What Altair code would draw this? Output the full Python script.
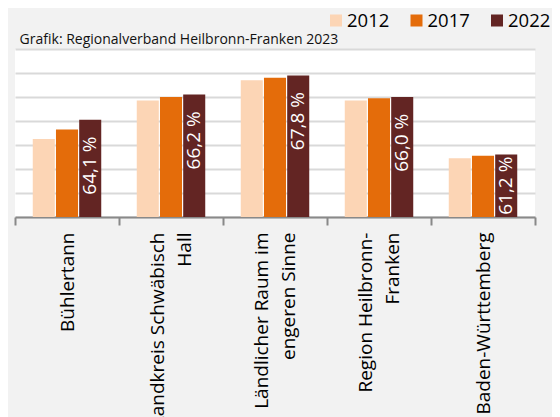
import altair as alt
import pandas as pd

# ---- data ----
categories = [
    "Bühlertann",
    "Landkreis Schwäbisch|Hall",
    "Ländlicher Raum im|engeren Sinne",
    "Region Heilbronn-|Franken",
    "Baden-Württemberg",
]
# non-breaking-space padding that centres the 2nd label line under the 1st
line2_pad = [0, 17, 5, 9, 0]
years = ["2012", "2017", "2022"]
v2012 = [62.5, 65.7, 67.4, 65.7, 60.9]
v2017 = [63.3, 66.0, 67.6, 65.9, 61.1]
v2022 = [64.1, 66.2, 67.8, 66.0, 61.2]
colors = ["#FCD5B5", "#E46C0A", "#632523"]
title_text = "Grafik: Regionalverband Heilbronn-Franken 2023"

display = []
for c, p in zip(categories, line2_pad):
    parts = c.split("|")
    if len(parts) > 1:
        parts[1] = parts[1] + "\u00a0" * p
    display.append("|".join(parts))

rows = []
for i, d in enumerate(display):
    for y, vals in zip(years, [v2012, v2017, v2022]):
        v = vals[i]
        rows.append({"cat": d, "year": y, "value": v,
                     "label": f"{v:.1f}".replace(".", ",") + " %"})
df = pd.DataFrame(rows)

color_scale = alt.Scale(domain=years, range=colors)
x_axis = alt.Axis(title=None, labelAngle=-90, labelFont="Open Sans",
                  labelFontSize=19, labelColor="#000000",
                  labelLineHeight=26.5,
                  labelExpr="split(datum.label, '|')",
                  labelOffset={"condition": {"test": "indexof(datum.label, '|') >= 0",
                                             "value": -13.25},
                               "value": 0},
                  labelLimit=1000, labelOverlap=False,
                  labelPadding=7, tickBand="extent",
                  tickSize=8, tickWidth=2, tickColor="#898989",
                  domainColor="#898989", domainWidth=2)
x_scale = alt.Scale(domain=display, paddingInner=0, paddingOuter=0)
y_axis = alt.Axis(title=None, labels=False, ticks=False, domain=False,
                  grid=True, gridColor="#D9D9D9", gridWidth=2,
                  values=[56, 58, 60, 62, 64, 66, 68, 70])
y_scale = alt.Scale(domain=[56, 70], nice=False, zero=False)
xoff_enc = alt.XOffset("year:N",
                       scale=alt.Scale(domain=years, paddingInner=0.05,
                                       paddingOuter=0.765))

bars = alt.Chart(df).mark_bar().encode(
    x=alt.X("cat:N", sort=display, scale=x_scale, axis=x_axis),
    xOffset=xoff_enc,
    y=alt.Y("value:Q", scale=y_scale, axis=y_axis),
    y2=alt.datum(56),
    color=alt.Color("year:N", scale=color_scale, legend=None),
)

labels = alt.Chart(df).transform_filter(
    alt.datum.year == "2022"
).transform_calculate(
    ly="max(datum.value - 1.39, 61.03)"
).mark_text(angle=270, align="right", baseline="middle", color="white",
            font="Open Sans", fontSize=19).encode(
    x=alt.X("cat:N", sort=display, scale=x_scale, axis=x_axis),
    xOffset=xoff_enc,
    y=alt.Y("ly:Q", scale=y_scale, axis=y_axis),
    text="label:N",
)

title = alt.Chart(pd.DataFrame({"t": [title_text]})).mark_text(
    align="left", baseline="alphabetic", font="Open Sans", fontSize=14,
    color="#111111"
).encode(x=alt.value(4.6), y=alt.value(-5), text="t:N")

main = alt.layer(bars, labels, title)

# legend (top right) drawn from the year list through its own point scale
leg_df = pd.DataFrame({"year": years})
leg_x = alt.X("year:N", sort=years,
              scale=alt.Scale(type="point", domain=years, range=[321, 482],
                              padding=0),
              axis=None)
leg_sym = alt.Chart(leg_df).mark_square(size=144, opacity=1).encode(
    x=leg_x, y=alt.value(-28.5),
    color=alt.Color("year:N", scale=color_scale, legend=None),
)
leg_txt = alt.Chart(leg_df).mark_text(
    align="left", baseline="alphabetic", dx=11, font="Open Sans",
    fontSize=18.5, color="#000000"
).encode(x=leg_x, y=alt.value(-22), text="year:N")
legend = alt.layer(leg_sym, leg_txt)

chart = alt.layer(main, legend).resolve_scale(x="independent").properties(
    width=520, height=168,
    background="#F2F2F2",
    autosize=alt.AutoSizeParams(type="none"),
    padding={"left": 7, "top": 41, "right": 17, "bottom": 200},
).configure_view(fill="white", strokeWidth=0)

chart.save("out.html", embed_options={"renderer": "svg", "actions": False})
